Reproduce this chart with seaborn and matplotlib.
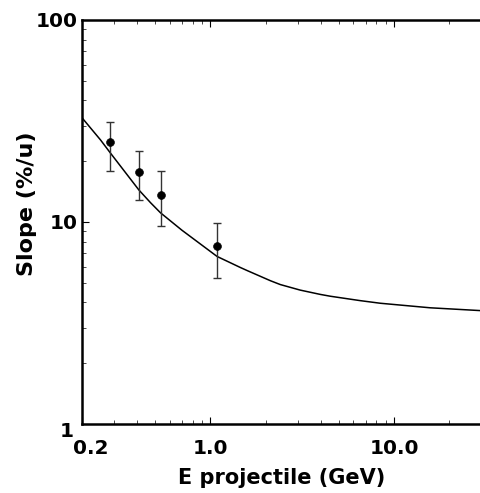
import numpy as np
import pandas as pd
import matplotlib
matplotlib.use("Agg")
import matplotlib.pyplot as plt
import matplotlib.transforms as mtransforms
from matplotlib.ticker import FixedLocator, FixedFormatter, NullFormatter, LogLocator
import seaborn as sns

# Data points
energy = [0.284, 0.41, 0.535, 1.087]
slope = [24.8, 17.7, 13.6, 7.6]
err_low = [17.9, 12.9, 9.5, 5.27]
err_high = [31.4, 22.5, 17.8, 9.85]

# Fitted curve
curve_x = [0.2, 0.252, 0.286, 0.408, 0.472, 0.535, 0.70, 1.087, 1.456, 1.583,
           2.12, 2.40, 3.08, 3.96, 4.49, 6.53, 8.4, 15.7, 29.7]
curve_y = [32.8, 25.5, 21.9, 14.4, 12.46, 11.1, 9.1, 6.75, 5.95, 5.75,
           5.12, 4.90, 4.60, 4.38, 4.29, 4.08, 3.96, 3.76, 3.64]

x_ticks = [0.2, 1.0, 10.0]
x_tick_labels = ["0.2", "1.0", "10.0"]
y_ticks = [1, 10, 100]
y_tick_labels = ["1", "10", "100"]

sns.set_style("ticks")
plt.rcParams['font.family'] = ['DejaVu Sans']
plt.rcParams['font.weight'] = 'bold'
plt.rcParams['text.color'] = 'black'
plt.rcParams['axes.labelcolor'] = 'black'
plt.rcParams['xtick.color'] = 'black'
plt.rcParams['ytick.color'] = 'black'

fig = plt.figure(figsize=(4.81, 4.93), dpi=100)
ax = fig.add_axes([0.1705, 0.140, 0.8295, 0.8195])

df_curve = pd.DataFrame({"E": curve_x, "S": curve_y})
df_pts = pd.DataFrame({"E": energy, "S": slope})

ax.set_xscale("log")
ax.set_yscale("log")

sns.lineplot(data=df_curve, x="E", y="S", ax=ax, color="black", linewidth=1.1,
             estimator=None, sort=True)
yerr = np.array([np.array(slope) - np.array(err_low), np.array(err_high) - np.array(slope)])
ax.errorbar(energy, slope, yerr=yerr, fmt="none", ecolor="#333333", elinewidth=1.0,
            capsize=3, capthick=1.0, zorder=2)
sns.scatterplot(data=df_pts, x="E", y="S", ax=ax, color="black", s=32,
                edgecolor="black", zorder=3)

ax.set_xlim(0.2, 29.7)
ax.set_ylim(1, 100)

ax.xaxis.set_major_locator(FixedLocator(x_ticks))
ax.xaxis.set_major_formatter(FixedFormatter(x_tick_labels))
ax.xaxis.set_minor_locator(LogLocator(base=10, subs=np.arange(2, 10) * 1.0))
ax.xaxis.set_minor_formatter(NullFormatter())
ax.yaxis.set_major_locator(FixedLocator(y_ticks))
ax.yaxis.set_major_formatter(FixedFormatter(y_tick_labels))
ax.yaxis.set_minor_locator(LogLocator(base=10, subs=np.arange(2, 10) * 1.0))
ax.yaxis.set_minor_formatter(NullFormatter())

ax.tick_params(axis="x", which="both", direction="in", top=True, bottom=True)
ax.tick_params(axis="y", which="both", direction="in", left=True, right=False)
ax.tick_params(which="major", length=5, width=0.8, labelsize=14.5, colors="black")
ax.tick_params(axis="x", which="major", pad=11)
ax.tick_params(axis="y", which="major", pad=3)
ax.tick_params(which="minor", length=3, width=0.5, colors="black")

for lab in ax.get_xticklabels() + ax.get_yticklabels():
    lab.set_fontweight("bold")
    lab.set_color("black")

# nudge the crowded corner labels like in the original
xl = ax.get_xticklabels()[0]
xl.set_transform(xl.get_transform() + mtransforms.ScaledTranslation(9 / 100, 0, fig.dpi_scale_trans))
yl = ax.get_yticklabels()[0]
yl.set_transform(yl.get_transform() + mtransforms.ScaledTranslation(-4 / 100, -6 / 100, fig.dpi_scale_trans))

for side in ["left", "top", "bottom"]:
    ax.spines[side].set_linewidth(1.8)
    ax.spines[side].set_color("black")
ax.spines["right"].set_visible(False)

ax.set_xlabel("E projectile (GeV)", fontsize=15, fontweight="bold", color="black")
ax.set_ylabel("Slope (%/u)", fontsize=16, fontweight="bold", color="black")
ax.xaxis.set_label_coords(0.5, -0.108)
ax.yaxis.set_label_coords(-0.112, 0.545)

fig.savefig("out.png", dpi=100)
